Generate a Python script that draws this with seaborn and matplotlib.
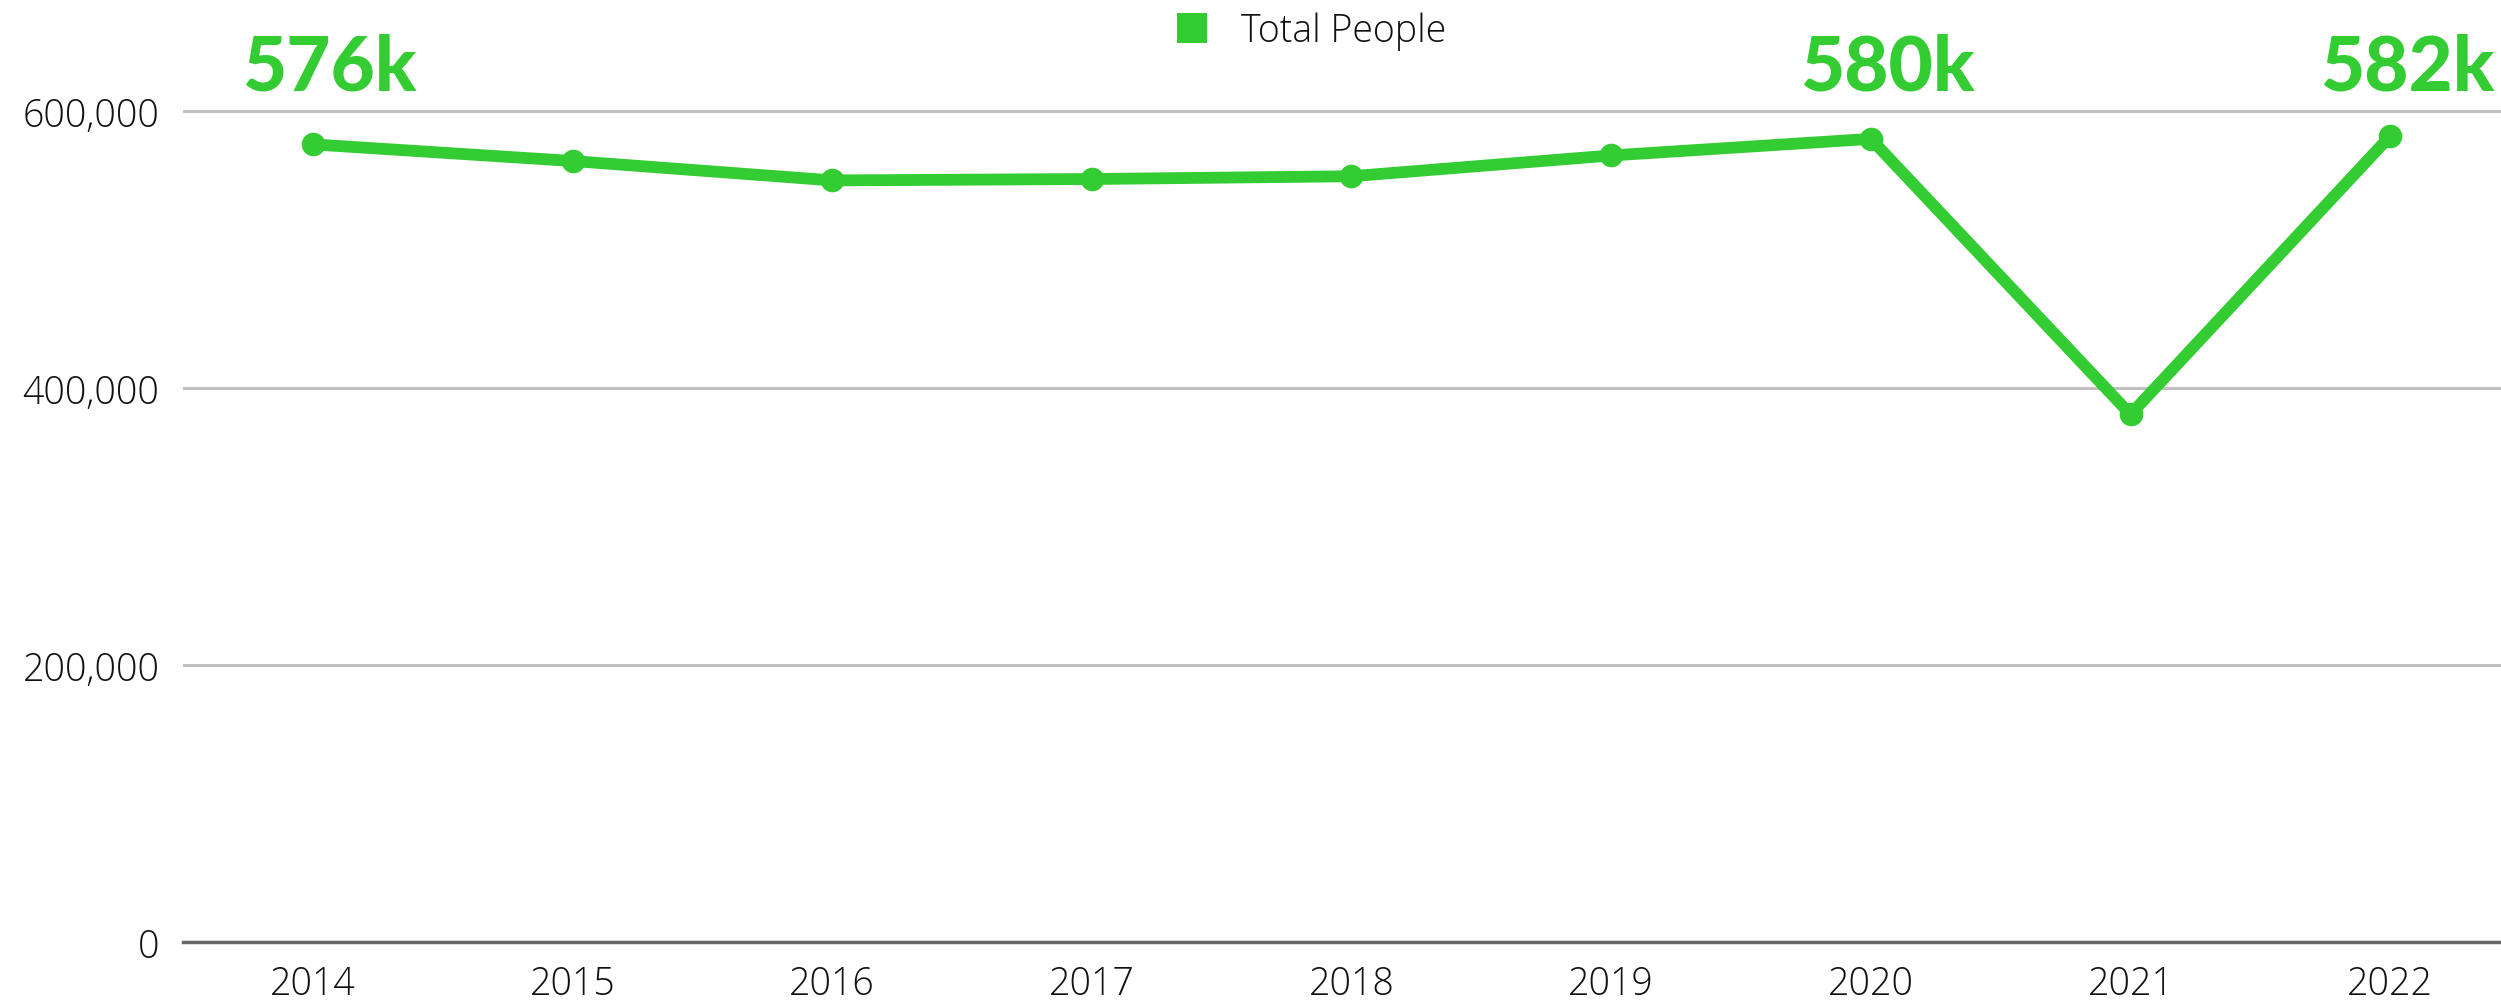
import pandas as pd
import numpy as np
import matplotlib.pyplot as plt
import seaborn as sns

# -----------------------------
# Data
# -----------------------------
years = ["2014", "2015", "2016", "2017", "2018", "2019", "2020", "2021", "2022"]
total_people = [576000, 564000, 550000, 551000, 553000, 568000, 580000, 381000, 582000]
label_years = ["2014", "2020", "2022"]
label_texts = ["576k", "580k", "582k"]
y_ticks = [0, 200000, 400000, 600000]
y_tick_labels = ["0", "200,000", "400,000", "600,000"]

green = "#33cc33"

data = pd.DataFrame({"Year": years, "Total People": total_people})

# -----------------------------
# Plot
# -----------------------------
sns.set_theme(style="white")
plt.rcParams['font.family'] = ['Open Sans', 'DejaVu Sans']

fig = plt.figure(figsize=(25.01, 10.04), dpi=100)
ax = fig.add_axes([183 / 2501, 61 / 1004, (2520 - 183) / 2501, 943 / 1004])

sns.lineplot(data=data, x="Year", y="Total People", ax=ax, color=green,
             linewidth=8.5, marker="o", markersize=17, markeredgewidth=0,
             label="Total People", legend=False)

ax.set_xlim(-0.5, len(years) - 0.5)
ax.set_ylim(0, 681000)
ax.set_yticks(y_ticks)
ax.set_yticklabels(y_tick_labels)
ax.set_xlabel("")
ax.set_ylabel("")

ax.grid(axis="y", color="#c0c0c0", linewidth=2.2)
ax.grid(axis="x", visible=False)
for s in ["top", "right", "left"]:
    ax.spines[s].set_visible(False)
ax.spines["bottom"].set_color("#666666")
ax.spines["bottom"].set_linewidth(2.5)
ax.set_axisbelow(True)

ax.tick_params(axis="y", length=0, pad=17, labelsize=27, labelcolor="#111111")
ax.tick_params(axis="x", length=0, pad=16, labelsize=27, labelcolor="#111111")
for t in ax.get_xticklabels() + ax.get_yticklabels():
    t.set_fontweight("light")

# value labels
for yr, txt in zip(label_years, label_texts):
    xi = years.index(yr)
    ax.text(xi + 0.065, 616000, txt, ha="center", va="baseline",
            fontsize=55, fontweight="black", color=green,
            family=["Lato", "DejaVu Sans"])

# legend
handle = plt.Line2D([], [], marker="s", linestyle="none", markersize=21,
                    markerfacecolor=green, markeredgewidth=0)
fig.legend([handle], ["Total People"], loc="center", bbox_to_anchor=(0.520, 0.968),
           frameon=False, handletextpad=0.3,
           prop={"weight": "light", "size": 27}, labelcolor="#111111")

plt.savefig("out.png", dpi=100)
